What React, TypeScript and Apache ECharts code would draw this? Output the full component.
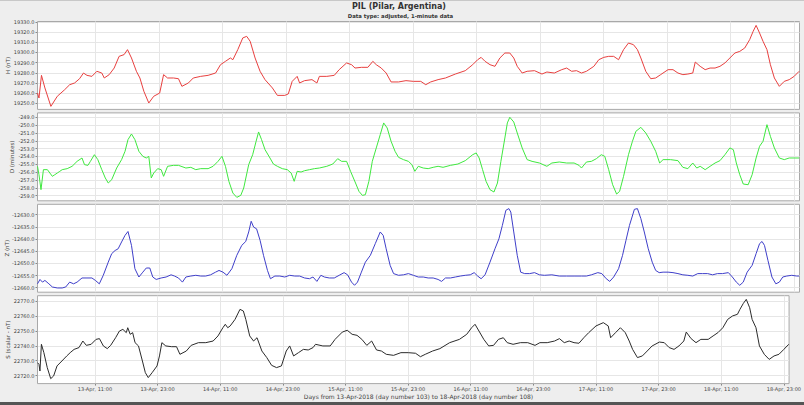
import React, { useEffect, useRef } from "react";
import * as echarts from "echarts";

// x = hours since 13-Apr-2018 00:00
const hourTicks = [11, 23, 35, 47, 59, 71, 83, 95, 107, 119, 131, 143];
const ticksH = [19250, 19260, 19270, 19280, 19290, 19300, 19310, 19320, 19330];
const ticksD = [-259, -258, -257, -256, -255, -254, -253, -252, -251, -250, -249];
const ticksZ = [-12660, -12655, -12650, -12645, -12640, -12635, -12630];
const ticksS = [22720, 22730, 22740, 22750, 22760, 22770];

const seriesH: [number, number][] = [
  [0, 19260.1], [0.28, 19255.2], [0.75, 19277.5], [1.4, 19265.1], [2.53, 19247.0], [3.74, 19256.9], [5.14, 19263.4], [6.08, 19268.3], [7.01, 19270.0], [7.95, 19274.2],
  [8.69, 19279.8], [9.35, 19277.5], [10.28, 19276.5], [11.22, 19281.5], [12.15, 19279.8], [12.62, 19274.9], [13.55, 19278.2], [14.49, 19284.7], [15.42, 19296.2], [16.36, 19297.9],
  [17.01, 19302.8], [17.76, 19294.6], [18.69, 19281.5], [19.35, 19274.9], [20.1, 19261.8], [21.03, 19250.3], [21.96, 19256.9], [23.09, 19260.1], [23.83, 19278.2], [24.58, 19274.9],
  [25.7, 19274.9], [26.64, 19274.2], [27.29, 19266.7], [28.51, 19270.0], [29.44, 19274.9], [30.84, 19276.5], [32.24, 19277.5], [33.65, 19279.8], [34.58, 19288.0], [35.52, 19291.3],
  [36.45, 19294.6], [36.92, 19292.9], [37.85, 19302.8], [38.79, 19314.3], [39.53, 19315.9], [40.19, 19311.0], [41.12, 19294.6], [42.06, 19281.5], [42.99, 19273.3], [44.39, 19265.1],
  [45.33, 19257.8], [46.73, 19257.8], [47.39, 19259.2], [48.13, 19271.6], [49.07, 19276.5], [49.53, 19270.0], [50.47, 19272.3], [51.87, 19273.3], [52.8, 19270.0], [53.27, 19276.5],
  [54.67, 19276.5], [56.08, 19277.5], [57.01, 19283.1], [58.41, 19289.7], [59.35, 19288.0], [60, 19284.7], [61.21, 19285.4], [62.43, 19285.4], [63.37, 19291.3], [64.02, 19288.0],
  [64.96, 19284.7], [65.89, 19279.8], [66.82, 19271.0], [68.22, 19271.0], [69.63, 19272.3], [71.03, 19271.6], [72.43, 19271.6], [73.37, 19268.3], [74.3, 19271.0], [75.7, 19273.3],
  [77.1, 19274.9], [78.97, 19278.8], [80.84, 19282.1], [82.24, 19288.0], [83.18, 19292.9], [83.83, 19295.2], [84.58, 19291.3], [85.51, 19288.0], [86.45, 19286.4], [87.38, 19294.6],
  [88.32, 19299.5], [89.25, 19299.5], [90, 19294.6], [90.66, 19286.4], [91.59, 19279.8], [92.53, 19281.5], [93.93, 19282.1], [95.33, 19278.8], [96.26, 19280.8], [97.66, 19279.8],
  [99.07, 19283.1], [100, 19284.7], [100.93, 19281.5], [101.87, 19282.1], [102.8, 19279.8], [103.74, 19281.5], [105.14, 19286.4], [106.07, 19292.9], [107.01, 19295.2], [107.94, 19296.2],
  [108.88, 19296.2], [109.81, 19292.9], [110.75, 19302.8], [111.68, 19309.3], [112.62, 19307.7], [113.37, 19302.8], [114.02, 19294.6], [114.95, 19281.5], [115.89, 19274.2], [116.82, 19274.9],
  [117.76, 19278.2], [119.16, 19283.1], [120.09, 19283.1], [121.03, 19279.8], [121.96, 19278.2], [122.9, 19278.8], [123.83, 19279.8], [124.3, 19290.6], [125.23, 19286.4], [126.17, 19283.1],
  [127.1, 19284.7], [128.04, 19284.7], [128.97, 19286.4], [129.91, 19289.7], [130.84, 19294.6], [131.78, 19299.5], [132.71, 19301.1], [133.65, 19304.4], [134.58, 19312.6], [135.24, 19320.8],
  [135.8, 19326.7], [136.45, 19319.2], [137.11, 19311.0], [137.85, 19302.8], [138.5, 19288.0], [139.25, 19274.9], [140.19, 19266.7], [141.12, 19271.6], [142.06, 19273.3], [142.99, 19276.5],
  [143.93, 19281.5],
];

const seriesD: [number, number][] = [
  [0, -255.25], [0.28, -256.32], [0.66, -258.23], [1.12, -255.68], [1.87, -255.68], [2.34, -256.11], [2.81, -256.53], [3.27, -256.32], [3.74, -256.11], [4.21, -255.89],
  [4.67, -255.68], [5.61, -255.55], [6.54, -255.25], [7.48, -254.62], [8.41, -254.19], [8.88, -255.04], [9.53, -255.13], [10, -254.62], [10.75, -253.77], [11.4, -254.4],
  [12.15, -255.68], [12.81, -256.74], [13.37, -257.38], [14.02, -256.96], [14.96, -255.47], [15.89, -254.4], [16.54, -253.34], [17.1, -251.85], [17.76, -251.13], [18.41, -251.85],
  [19.16, -253.34], [19.91, -253.98], [20.56, -254.19], [21.03, -253.98], [21.5, -256.74], [21.96, -256.11], [22.71, -255.55], [23.37, -255.68], [23.83, -256.53], [24.58, -255.25],
  [25.7, -255.13], [26.64, -255.13], [28.04, -255.47], [28.97, -255.38], [29.91, -255.68], [30.84, -255.55], [32.24, -255.55], [33.18, -255.25], [34.11, -254.62], [34.86, -253.98],
  [35.52, -255.25], [36.17, -257.17], [36.92, -258.66], [37.66, -259.21], [38.41, -258.96], [38.97, -258.02], [39.91, -255.04], [40.66, -253.77], [41.31, -252.06], [41.78, -250.87],
  [42.34, -251.85], [43, -253.13], [43.93, -254.19], [44.58, -254.96], [45.33, -255.25], [46.26, -255.55], [47.2, -255.68], [47.94, -256.11], [48.51, -257.17], [49.07, -255.89],
  [49.81, -255.98], [50.47, -255.81], [51.4, -255.68], [52.34, -255.55], [53.27, -255.47], [54.67, -255.25], [55.8, -254.96], [56.73, -254.28], [57.48, -254.62], [58.41, -254.62],
  [59.16, -255.89], [60.1, -257.38], [60.75, -258.45], [61.4, -258.96], [61.96, -258.87], [62.62, -257.17], [63.27, -254.62], [64.02, -252.91], [64.77, -251.21], [65.42, -249.72],
  [66.08, -250.36], [66.82, -252.06], [67.57, -253.34], [68.23, -254.11], [69.16, -254.4], [70.09, -254.62], [70.75, -255.04], [71.31, -255.89], [71.96, -255.25], [72.9, -255.47],
  [73.83, -255.55], [74.77, -255.38], [75.7, -255.25], [76.64, -255.38], [78.04, -255.13], [79.44, -254.96], [80.84, -254.53], [82.24, -253.77], [82.9, -253.55], [83.46, -254.19],
  [84.11, -255.68], [84.77, -257.17], [85.51, -258.23], [86.26, -258.53], [86.92, -257.38], [87.57, -254.62], [88.32, -251.64], [88.79, -249.72], [89.25, -249.0], [90, -249.6],
  [90.66, -251.0], [91.59, -252.91], [92.53, -254.4], [93.46, -254.62], [94.86, -254.83], [96.26, -255.25], [97.2, -254.83], [98.6, -254.7], [100, -254.83], [101.4, -254.83],
  [102.34, -255.13], [102.8, -255.47], [103.74, -254.7], [104.67, -254.62], [105.61, -254.28], [106.54, -253.77], [107.2, -253.98], [107.94, -255.68], [108.69, -257.6], [109.44, -258.79],
  [110, -258.45], [110.75, -256.53], [111.68, -253.77], [112.43, -252.06], [113.08, -250.79], [114.02, -250.28], [114.95, -251.0], [115.89, -252.06], [116.82, -253.34], [117.57, -254.83],
  [118.22, -254.4], [119.63, -254.4], [121.03, -254.53], [121.96, -255.38], [122.9, -255.55], [123.83, -254.83], [124.58, -255.47], [125.23, -255.25], [126.17, -255.68], [127.1, -255.25],
  [128.04, -254.83], [128.97, -254.53], [129.91, -253.77], [130.84, -252.91], [131.5, -253.13], [132.06, -254.83], [132.71, -256.32], [133.37, -257.51], [134.3, -257.6], [135.05, -256.32],
  [135.8, -254.19], [136.45, -252.7], [137.11, -252.06], [137.85, -249.94], [138.5, -251.43], [139.25, -252.91], [140.19, -254.19], [141.12, -254.4], [142.06, -254.19], [142.99, -254.19],
  [143.93, -254.19],
];

const seriesZ: [number, number][] = [
  [0, -12658.4], [0.47, -12656.6], [0.94, -12657.7], [1.4, -12657.0], [2.15, -12658.4], [2.81, -12659.7], [3.74, -12660.1], [4.67, -12660.1], [5.33, -12659.7], [6.08, -12657.7],
  [6.82, -12658.4], [7.48, -12657.7], [8.41, -12656.0], [9.35, -12656.0], [10.28, -12656.0], [10.94, -12657.0], [11.68, -12658.4], [12.43, -12654.9], [13.37, -12649.5], [14.02, -12646.0],
  [14.67, -12644.7], [15.24, -12644.0], [15.89, -12641.2], [16.54, -12638.5], [17.1, -12636.9], [17.76, -12642.6], [18.41, -12652.2], [19.16, -12655.6], [19.91, -12653.6], [20.56, -12651.9],
  [21.22, -12651.9], [21.78, -12655.6], [22.43, -12656.6], [23.37, -12656.0], [24.3, -12655.6], [25.24, -12654.7], [25.89, -12655.2], [26.64, -12656.0], [27.39, -12657.7], [28.04, -12655.6],
  [28.97, -12655.2], [29.91, -12654.9], [30.84, -12655.2], [31.78, -12655.2], [32.71, -12654.7], [33.65, -12653.6], [34.3, -12652.9], [35.05, -12653.6], [35.8, -12654.9], [36.73, -12652.2],
  [37.66, -12646.7], [38.6, -12642.6], [39.35, -12641.0], [39.91, -12637.1], [40.38, -12632.7], [40.84, -12635.1], [41.4, -12635.8], [42.06, -12640.5], [42.71, -12646.7], [43.46, -12652.9],
  [44.02, -12656.3], [44.86, -12655.2], [45.8, -12655.2], [46.73, -12655.6], [47.66, -12654.9], [48.6, -12655.2], [49.53, -12655.2], [50.47, -12656.0], [51.4, -12656.3], [52.06, -12655.6],
  [52.8, -12657.4], [53.55, -12654.9], [54.21, -12655.6], [55.14, -12656.0], [56.08, -12656.0], [57.01, -12654.9], [57.94, -12653.8], [58.6, -12654.7], [59.35, -12657.7], [59.91, -12659.0],
  [60.47, -12657.7], [61.21, -12653.6], [61.96, -12649.5], [62.9, -12646.7], [63.83, -12641.9], [64.77, -12637.1], [65.33, -12638.5], [65.89, -12644.0], [66.64, -12650.8], [67.29, -12654.2],
  [68.23, -12654.9], [69.16, -12654.7], [70.09, -12654.2], [71.03, -12654.9], [71.96, -12655.6], [72.9, -12655.6], [73.83, -12656.0], [74.77, -12656.0], [75.7, -12656.6], [76.36, -12657.4],
  [77.1, -12656.0], [78.04, -12656.0], [78.97, -12655.6], [79.91, -12655.2], [80.84, -12654.9], [81.78, -12654.7], [82.52, -12653.8], [83.18, -12655.2], [83.83, -12656.3], [84.58, -12654.7],
  [85.51, -12649.5], [86.45, -12644.0], [87.2, -12639.9], [87.85, -12634.4], [88.51, -12628.2], [89.07, -12627.5], [89.44, -12628.9], [90, -12637.1], [90.66, -12646.7], [91.31, -12653.6],
  [92.06, -12654.2], [93, -12654.2], [93.93, -12653.8], [94.86, -12654.7], [95.79, -12654.9], [97.2, -12654.7], [98.6, -12655.2], [100, -12655.2], [101.4, -12655.2], [102.8, -12655.2],
  [103.74, -12655.2], [104.67, -12654.7], [105.89, -12653.8], [106.64, -12654.2], [107.48, -12656.3], [108.14, -12657.4], [108.88, -12655.6], [109.81, -12652.2], [110.56, -12646.7], [111.21, -12640.5],
  [111.87, -12634.4], [112.8, -12627.8], [113.37, -12627.5], [114.02, -12631.6], [114.67, -12637.1], [115.42, -12644.0], [116.17, -12649.5], [116.82, -12652.9], [117.48, -12653.8], [118.22, -12653.6],
  [119.16, -12653.6], [120.09, -12653.8], [121.03, -12654.2], [121.96, -12654.7], [122.9, -12654.9], [123.83, -12655.2], [124.77, -12654.2], [125.7, -12654.2], [126.64, -12654.2], [127.57, -12654.7],
  [128.5, -12654.2], [129.44, -12654.2], [130.56, -12653.8], [131.31, -12655.6], [132.06, -12657.7], [132.71, -12659.0], [133.37, -12657.7], [134.11, -12653.6], [135.05, -12650.8], [135.8, -12646.0],
  [136.45, -12641.9], [136.92, -12641.0], [137.38, -12642.6], [138.04, -12648.8], [138.79, -12655.6], [139.53, -12658.4], [140.19, -12657.7], [140.84, -12655.6], [141.59, -12655.2], [142.53, -12654.9],
  [143.46, -12655.2], [143.93, -12655.2],
];

const seriesS: [number, number][] = [
  [0, 22728.7], [0.28, 22727.6], [0.47, 22723.1], [0.75, 22741.0], [1.22, 22735.4], [1.87, 22725.4], [2.53, 22718.0], [3.09, 22719.8], [3.74, 22726.5], [4.67, 22729.8],
  [5.61, 22733.2], [6.26, 22735.4], [7.01, 22737.6], [7.95, 22738.8], [8.69, 22743.2], [9.35, 22740.3], [10.28, 22741.0], [11.22, 22744.3], [11.87, 22744.8], [12.62, 22739.9],
  [13.37, 22738.1], [14.02, 22740.3], [14.96, 22745.4], [15.7, 22749.9], [16.36, 22751.0], [17.01, 22748.8], [17.29, 22752.1], [17.76, 22747.7], [18.23, 22748.8], [18.69, 22742.1],
  [19.35, 22739.9], [20.1, 22729.8], [20.66, 22722.0], [21.22, 22718.7], [21.96, 22722.0], [22.9, 22726.5], [23.37, 22733.2], [23.83, 22742.1], [24.58, 22739.9], [25.7, 22739.4],
  [26.64, 22739.4], [27.29, 22734.3], [28.51, 22736.5], [29.44, 22740.3], [30.84, 22742.1], [32.24, 22742.1], [33.65, 22743.2], [34.58, 22746.6], [35.52, 22752.1], [35.98, 22754.4],
  [36.45, 22752.1], [36.92, 22753.3], [37.85, 22757.7], [38.79, 22764.4], [39.44, 22763.3], [39.91, 22757.7], [40.66, 22746.6], [41.4, 22743.2], [42.06, 22745.4], [42.99, 22736.5],
  [43.93, 22732.1], [44.86, 22726.9], [45.8, 22725.4], [46.73, 22726.5], [47.66, 22736.5], [48.32, 22739.9], [49.07, 22733.2], [50, 22735.4], [50.94, 22737.6], [51.87, 22737.2],
  [52.8, 22738.8], [53.27, 22741.0], [54.67, 22739.9], [56.08, 22739.9], [57.01, 22744.3], [58.41, 22749.2], [59.35, 22750.4], [60.28, 22747.7], [61.22, 22747.0], [62.15, 22744.3],
  [63.09, 22740.3], [64.02, 22743.2], [64.96, 22737.2], [65.89, 22736.5], [66.82, 22734.3], [68.22, 22733.6], [69.63, 22735.4], [71.03, 22735.4], [72.43, 22735.0], [73.37, 22732.7],
  [74.3, 22734.3], [75.7, 22736.5], [77.1, 22738.1], [78.97, 22742.1], [80.84, 22744.3], [82.24, 22747.7], [83.18, 22752.1], [83.83, 22754.4], [84.58, 22749.9], [85.51, 22744.3],
  [86.45, 22739.9], [87.38, 22740.3], [88.32, 22744.3], [89.25, 22745.4], [90, 22742.1], [91.12, 22741.0], [92.53, 22742.1], [93.93, 22742.1], [95.33, 22740.3], [96.26, 22742.1],
  [97.66, 22742.1], [99.07, 22743.2], [100, 22744.8], [100.93, 22742.1], [101.87, 22743.2], [102.8, 22742.1], [103.74, 22741.7], [104.67, 22745.4], [105.61, 22748.8], [107.01, 22753.3],
  [108.41, 22755.5], [109.35, 22753.3], [109.81, 22745.4], [110.75, 22748.8], [111.68, 22752.1], [112.62, 22748.8], [113.37, 22743.2], [114.02, 22737.6], [114.95, 22732.1], [115.89, 22733.2],
  [116.82, 22736.5], [117.76, 22739.9], [119.16, 22742.5], [120.09, 22742.1], [121.03, 22738.8], [121.96, 22737.6], [122.9, 22739.9], [123.83, 22743.2], [124.3, 22749.2], [125.23, 22744.8],
  [126.17, 22742.1], [127.1, 22744.3], [128.5, 22744.3], [129.44, 22746.6], [130.37, 22748.8], [131.31, 22752.1], [132.24, 22757.7], [133.18, 22760.0], [134.11, 22761.1], [134.58, 22764.4],
  [135.24, 22768.4], [135.8, 22771.1], [136.45, 22765.5], [136.92, 22757.7], [137.66, 22752.1], [138.32, 22739.9], [139.25, 22734.3], [140.19, 22730.9], [141.12, 22733.2], [142.06, 22734.3],
  [143.0, 22737.6], [143.93, 22741.0],
];

const axisNames = ["H (nT)", "D (minutes)", "Z (nT)", "S (scalar - nT)"];
const axisNameX = [7.5, 11.5, 6.5, 7.5];
const lineColors = ["#e8403f", "#3fe83f", "#3f3fc9", "#2b2b2b"];

const GRID_LEFT = 37.5;
const GRID_RIGHT = 4.5;
const panels = [
  { top: 21.5, height: 87.9, min: 19244.0, max: 19330.5 },
  { top: 112.9, height: 87.9, min: -259.65, max: -248.44 },
  { top: 204.3, height: 87.9, min: -12661.84, max: -12625.73 },
  { top: 295.7, height: 87.9, min: 22714.68, max: 22773.55 },
];

const FONT = "DejaVu Sans";

function hourLabel(v: number): string {
  const h = Math.round(v);
  const day = 13 + Math.floor(h / 24);
  const hh = h % 24;
  return `${day}-Apr, ${hh < 10 ? "0" + hh : hh}:00`;
}

export default function App() {
  const ref = useRef<HTMLDivElement>(null);
  useEffect(() => {
    if (!ref.current) return;
    const chart = echarts.init(ref.current, null, { renderer: "svg" });
    const yTicks = [ticksH, ticksD, ticksZ, ticksS];
    const seriesData = [seriesH, seriesD, seriesZ, seriesS];
    const plotCenterX = GRID_LEFT + (804 - GRID_LEFT - GRID_RIGHT) / 2;

    const option: any = {
      animation: false,
      backgroundColor: "#eeeeee",
      grid: panels.map((p) => ({
        left: GRID_LEFT,
        right: GRID_RIGHT,
        top: p.top,
        height: p.height,
        show: true,
        backgroundColor: "#ffffff",
        borderColor: "#a8a8a8",
        borderWidth: 1,
      })),
      xAxis: panels.map((p, i) => ({
        type: "value",
        gridIndex: i,
        min: 0,
        max: 144,
        axisLine: { show: false },
        axisTick: {
          show: i === 3,
          customValues: hourTicks,
          length: 2,
          lineStyle: { color: "#888" },
        },
        axisLabel: {
          show: i === 3,
          customValues: hourTicks,
          interval: 0,
          hideOverlap: false,
          showMinLabel: true,
          showMaxLabel: true,
          formatter: (v: number) => hourLabel(v),
          fontSize: 5,
          fontFamily: FONT,
          color: "#444",
          margin: 3,
        },
        splitLine: { show: true, lineStyle: { color: "#e6e6e6", width: 1 } },
      })),
      yAxis: panels.map((p, i) => ({
        type: "value",
        gridIndex: i,
        min: p.min,
        max: p.max,
        axisLine: { show: false },
        axisTick: {
          show: true,
          customValues: yTicks[i],
          length: 2,
          lineStyle: { color: "#888" },
        },
        axisLabel: {
          customValues: yTicks[i],
          interval: 0,
          hideOverlap: false,
          showMinLabel: true,
          showMaxLabel: true,
          formatter: (v: number) => v.toFixed(1),
          fontSize: 5,
          fontFamily: FONT,
          color: "#444",
          margin: 3,
        },
        splitLine: { show: true, lineStyle: { color: "#e6e6e6", width: 1 } },
      })),
      series: seriesData.map((d, i) => ({
        type: "line",
        xAxisIndex: i,
        yAxisIndex: i,
        data: d,
        showSymbol: false,
        symbol: "none",
        lineStyle: { color: lineColors[i], width: 1 },
        silent: true,
      })),
      graphic: [
        {
          type: "text",
          x: 399,
          y: 6.7,
          style: {
            text: "PIL (Pilar, Argentina)",
            font: `bold 8px "${FONT}"`,
            fill: "#333",
            textAlign: "center",
            textVerticalAlign: "middle",
          },
        },
        {
          type: "text",
          x: 400.5,
          y: 15.7,
          style: {
            text: "Data type: adjusted, 1-minute data",
            font: `bold 5.3px "${FONT}"`,
            fill: "#333",
            textAlign: "center",
            textVerticalAlign: "middle",
          },
        },
        ...panels.map((p, i) => ({
          type: "text",
          x: axisNameX[i],
          y: p.top + p.height / 2,
          rotation: Math.PI / 2,
          style: {
            text: axisNames[i],
            font: `5.5px "${FONT}"`,
            fill: "#444",
            textAlign: "center",
            textVerticalAlign: "middle",
          },
        })),
        {
          type: "text",
          x: plotCenterX,
          y: 396.7,
          style: {
            text: "Days from 13-Apr-2018 (day number 103) to 18-Apr-2018 (day number 108)",
            font: `6px "${FONT}"`,
            fill: "#444",
            textAlign: "center",
            textVerticalAlign: "middle",
          },
        },
        {
          type: "rect",
          shape: { x: 0, y: 402, width: 804, height: 3 },
          style: { fill: "#555" },
          silent: true,
        },
        {
          type: "rect",
          shape: { x: 0, y: 0, width: 804, height: 1 },
          style: { fill: "#c8c8c8" },
          silent: true,
        },
      ],
    };
    chart.setOption(option);
    return () => chart.dispose();
  }, []);

  return (
    <div
      ref={ref}
      style={{ position: "fixed", left: 0, top: 0, width: 804, height: 405 }}
    />
  );
}
